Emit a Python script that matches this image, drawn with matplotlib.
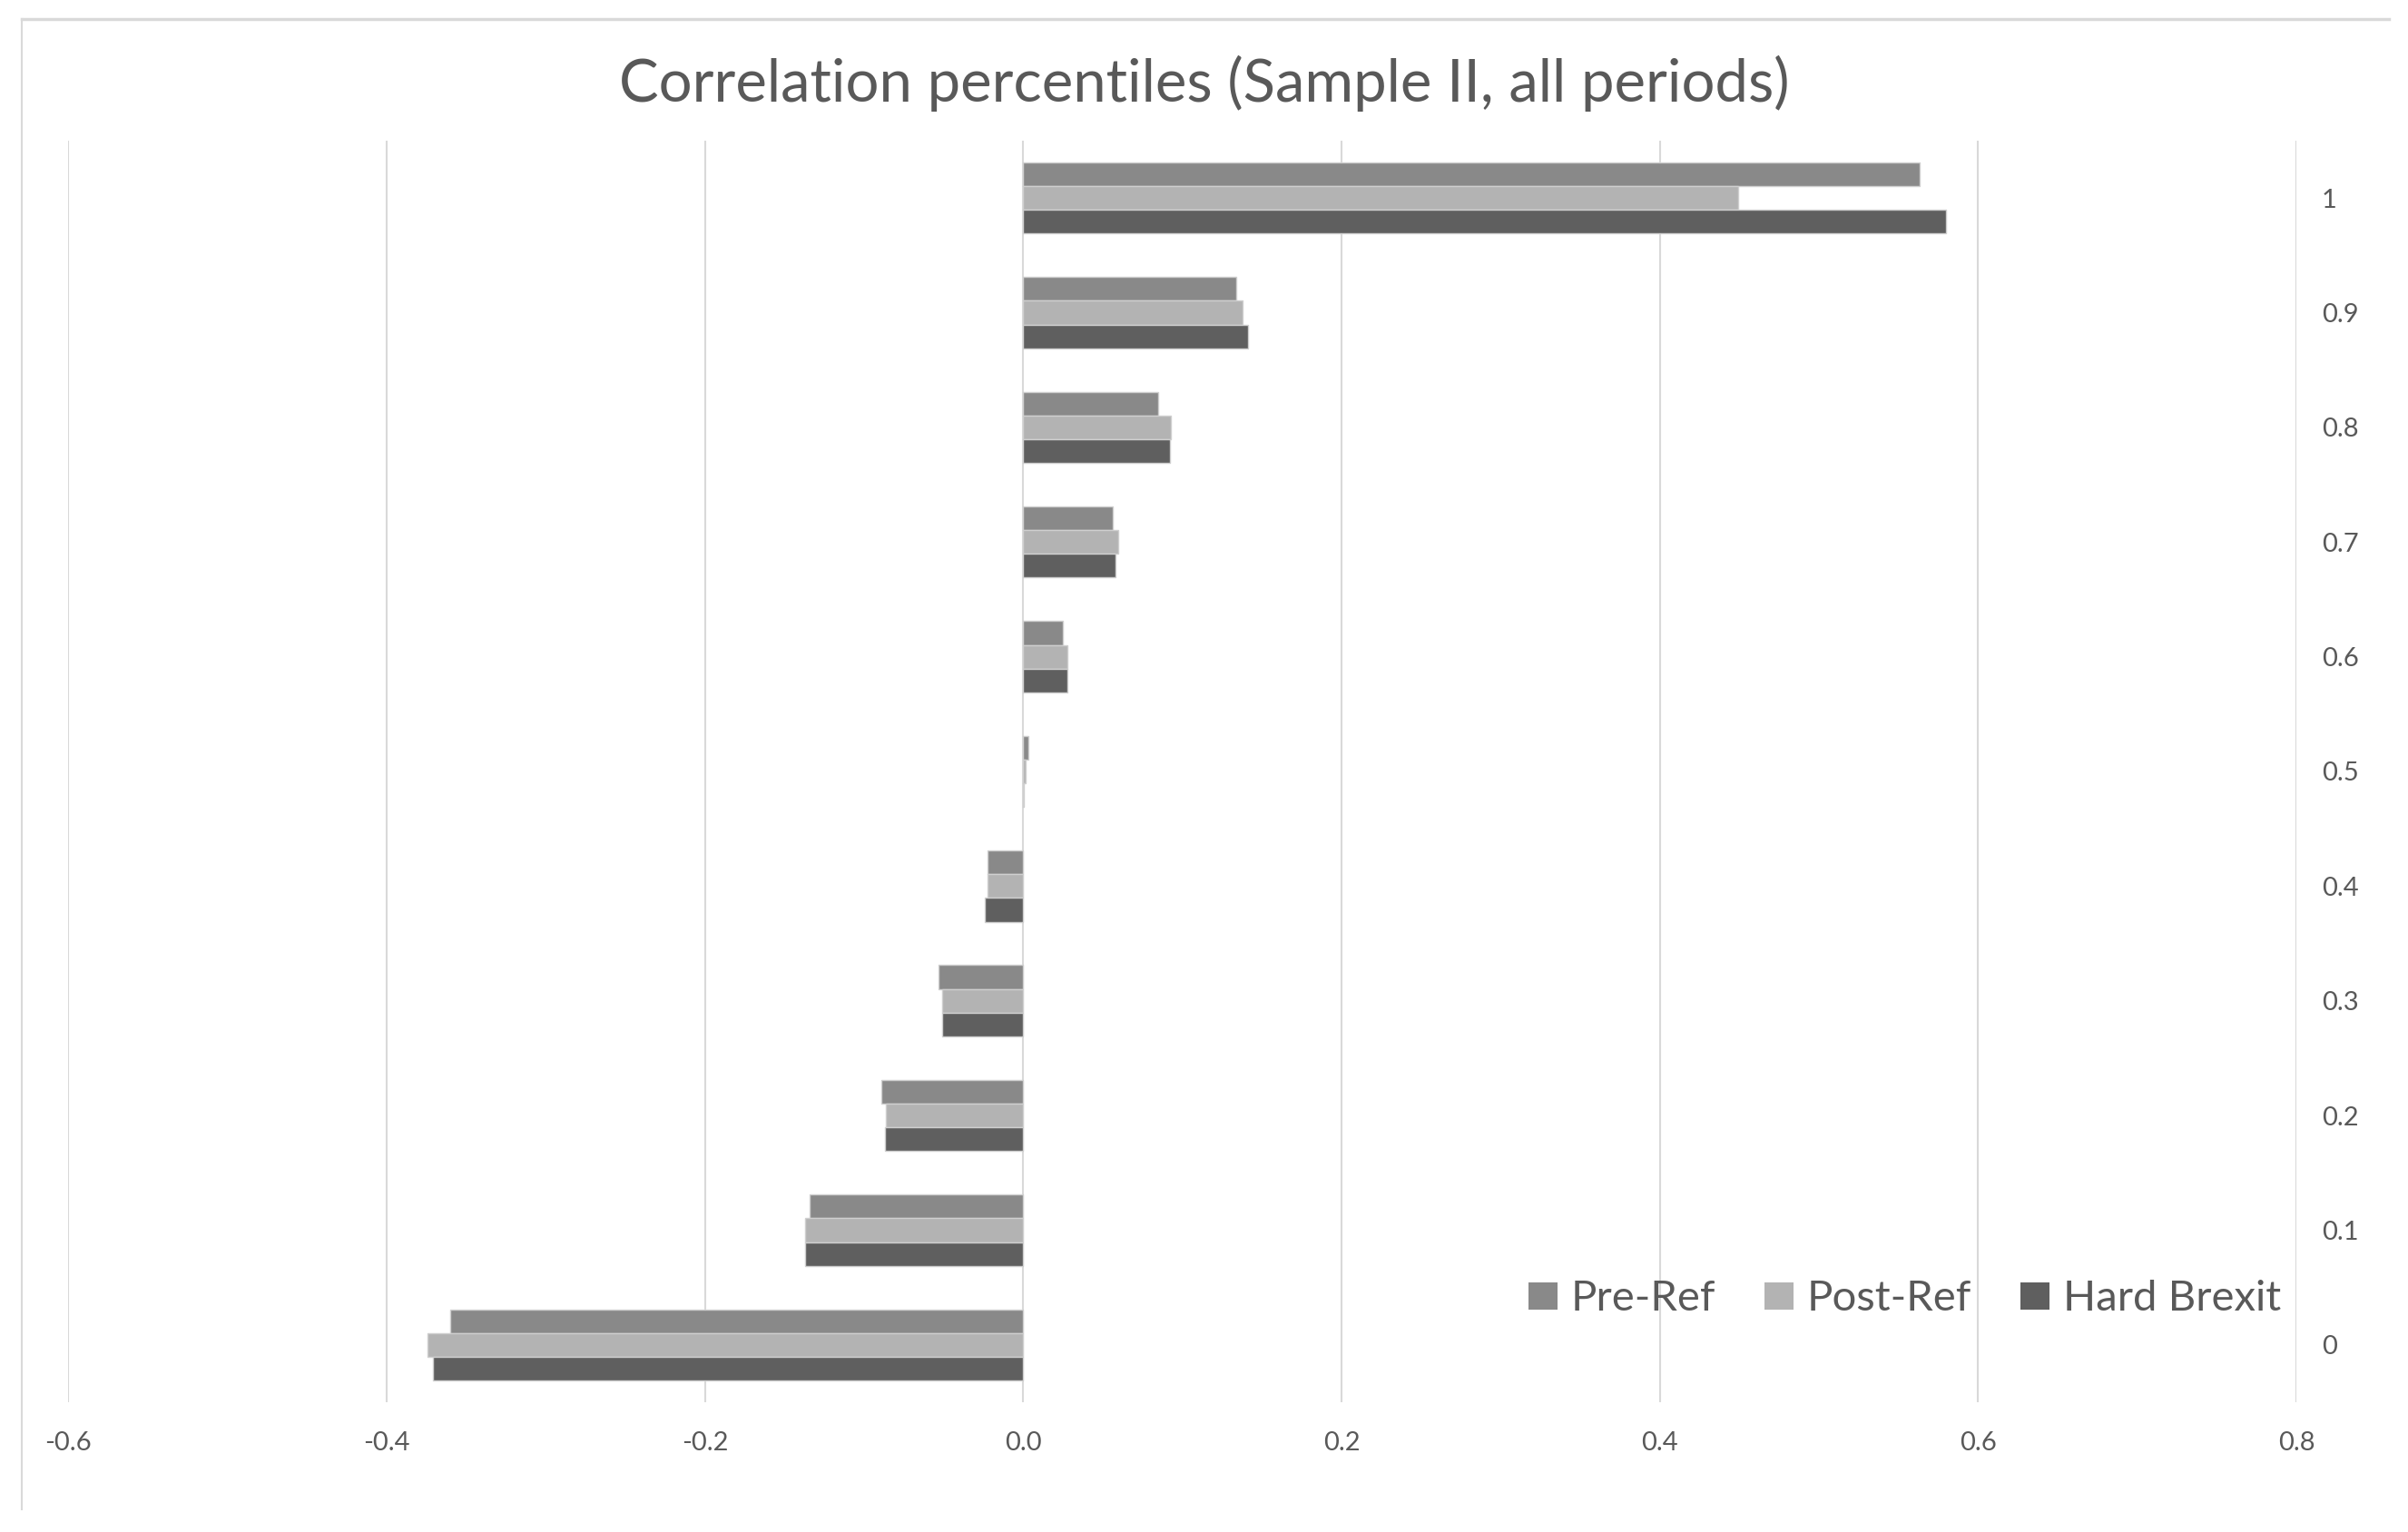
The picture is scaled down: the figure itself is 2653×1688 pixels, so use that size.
import numpy as np
import matplotlib.pyplot as plt
from matplotlib.lines import Line2D

plt.rcParams['font.family'] = ['Lato', 'DejaVu Sans']

# percentile categories (bottom to top)
percentiles = ['0', '0.1', '0.2', '0.3', '0.4', '0.5', '0.6', '0.7', '0.8', '0.9', '1']

pre_ref = [-0.360, -0.134, -0.089, -0.053, -0.0225, 0.003, 0.025, 0.0565, 0.085, 0.134, 0.563]
post_ref = [-0.374, -0.137, -0.086, -0.051, -0.0225, 0.0015, 0.028, 0.060, 0.093, 0.138, 0.449]
hard_brexit = [-0.371, -0.137, -0.087, -0.051, -0.024, 0.0005, 0.028, 0.058, 0.092, 0.141, 0.580]

xticks = [-0.6, -0.4, -0.2, 0.0, 0.2, 0.4, 0.6, 0.8]

text_col = '#595959'
grid_col = '#d9d9d9'

W, H = 2653, 1688
fig = plt.figure(figsize=(W / 100, H / 100), dpi=100)
ax = fig.add_axes([0.0283, 0.0847, 0.9254, 0.8235])

y = np.arange(len(percentiles))
h = 0.207
ax.barh(y + h, pre_ref, height=h, color='#898989', edgecolor='#cfcfcf', linewidth=1, label='Pre-Ref', zorder=3)
ax.barh(y, post_ref, height=h, color='#b3b3b3', edgecolor='#cfcfcf', linewidth=1, label='Post-Ref', zorder=3)
ax.barh(y - h, hard_brexit, height=h, color='#5f5f5f', edgecolor='#cfcfcf', linewidth=1, label='Hard Brexit', zorder=3)

ax.set_xlim(-0.6, 0.8)
ax.set_ylim(-0.5, len(percentiles) - 0.5)
ax.set_xticks(xticks)
ax.set_xticklabels(['%.1f' % v for v in xticks])
ax.set_yticks(y)
ax.set_yticklabels(percentiles)
ax.yaxis.tick_right()
ax.tick_params(axis='y', length=0, pad=20, labelsize=21, labelcolor=text_col)
ax.tick_params(axis='x', length=0, pad=23, labelsize=21, labelcolor=text_col)
for lab in ax.get_yticklabels():
    lab.set_horizontalalignment('left')

ax.grid(axis='x', color=grid_col, linewidth=1.5, zorder=0)
for s in ax.spines.values():
    s.set_visible(False)

# chart border (only top and left edges show in the crop)
x0, x1 = 24 / W, 2632 / W
y0, y1 = 1 - 1663 / H, 1 - 21 / H
fig.lines.append(Line2D([x0, x1], [y1, y1], transform=fig.transFigure, color=grid_col, linewidth=2.5))
fig.lines.append(Line2D([x0, x0], [y0, y1], transform=fig.transFigure, color=grid_col, linewidth=1.5))

fig.text(0.5, 1 - 112 / H, 'Correlation percentiles (Sample II, all periods)',
         ha='center', va='baseline', fontsize=47, color=text_col)

leg = fig.legend(loc='center', bbox_to_anchor=(0.791, 0.152), ncol=3, frameon=False,
                 fontsize=34, handlelength=0.68, handleheight=0.62,
                 handletextpad=0.3, columnspacing=1.15, labelcolor=text_col)
for p in leg.get_patches():
    p.set_edgecolor('none')

fig.savefig('out.png', dpi=100)
